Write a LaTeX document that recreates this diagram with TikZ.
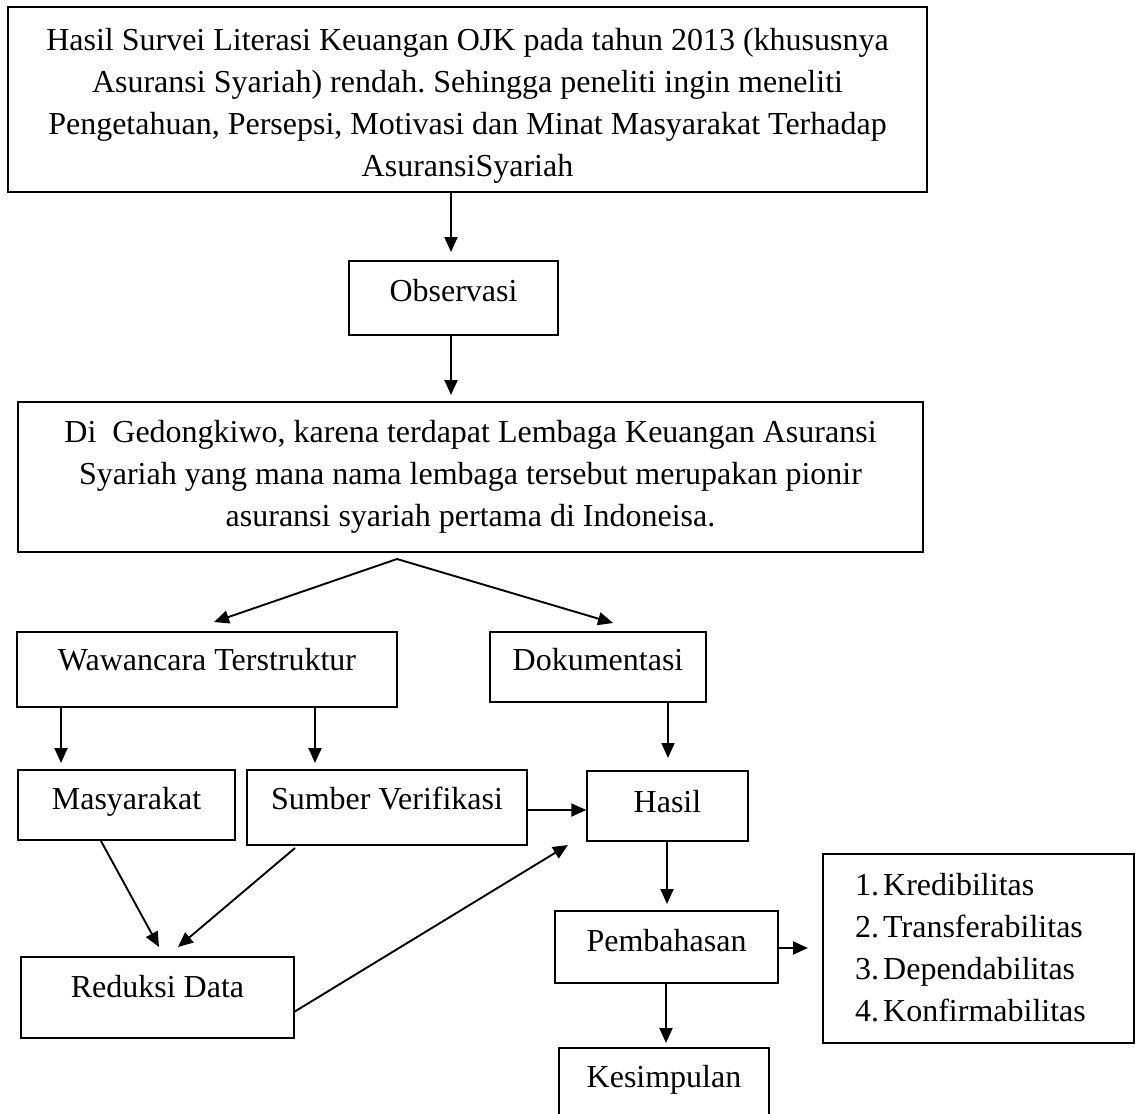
\documentclass[tikz,border=0pt]{standalone}
\usepackage{fontspec}
\setmainfont{Liberation Serif}
\usetikzlibrary{arrows.meta,calc}
\frenchspacing
\begin{document}
\begin{tikzpicture}[x=1pt,y=-1pt,
  box/.style={draw=black, line width=1.4pt, inner sep=0pt, rectangle},
  txt/.style={inner sep=0pt, align=center, anchor=base, font=\fontsize{32}{42}\selectfont},
  arr/.style={line width=1.9pt, -{Triangle[length=15pt,width=13pt]}}]
\useasboundingbox (0,0) rectangle (1139,1113);
\clip (0,0) rectangle (1139,1113);
\fill[white] (0,0) rectangle (1139,1113);
% boxes
\node[box, minimum width=919pt, minimum height=185pt] (top) at (467.5,99.5) {};
\node[box, minimum width=209pt, minimum height=74pt] (obs) at (453.5,298) {};
\node[box, minimum width=905pt, minimum height=150pt] (gd) at (470.5,477) {};
\node[box, minimum width=380pt, minimum height=75pt] (wt) at (207,669.5) {};
\node[box, minimum width=216pt, minimum height=70pt] (dok) at (598,667) {};
\node[box, minimum width=217pt, minimum height=70pt] (mas) at (126.5,805) {};
\node[box, minimum width=280pt, minimum height=75pt] (sv) at (387,807.5) {};
\node[box, minimum width=161pt, minimum height=70pt] (has) at (667.5,806) {};
\node[box, minimum width=273pt, minimum height=81pt] (red) at (157.5,997.5) {};
\node[box, minimum width=223pt, minimum height=72pt] (pem) at (666.5,947) {};
\node[box, minimum width=311pt, minimum height=189pt] (lst) at (978.5,948.5) {};
\node[box, minimum width=210pt, minimum height=100pt] (kes) at (664,1098) {};
% texts (base anchor of a multi-line node is its last line)
\node[txt] (topt) at (467.5,176) {Hasil Survei Literasi Keuangan OJK pada tahun 2013 (khususnya\\
 Asuransi Syariah) rendah. Sehingga peneliti ingin meneliti\\
Pengetahuan, Persepsi, Motivasi dan Minat Masyarakat Terhadap\\
AsuransiSyariah};
\node[txt] (obst) at (453.5,301) {Observasi};
\node[txt] (gdt) at (470.5,526) {Di\ \ Gedongkiwo, karena terdapat Lembaga Keuangan Asuransi\\
Syariah yang mana nama lembaga tersebut merupakan pionir\\
asuransi syariah pertama di Indoneisa.};
\node[txt] (wtt) at (207,670) {Wawancara Terstruktur};
\node[txt] (dokt) at (598,670) {Dokumentasi};
\node[txt] (mast) at (126.5,809) {Masyarakat};
\node[txt] (svt) at (387,809) {Sumber Verifikasi};
\node[txt] (hast) at (667.5,812) {Hasil};
\node[txt] (redt) at (157.5,997) {Reduksi Data};
\node[txt] (pemt) at (666.5,951) {Pembahasan};
\node[txt] (kest) at (664,1087) {Kesimpulan};
\node[txt, anchor=base west] (lstt) at (855,895) {\begin{tabular}[t]{@{}l@{\hspace{4pt}}l@{}}
1. & Kredibilitas\\
2. & Transferabilitas\\
3. & Dependabilitas\\
4. & Konfirmabilitas
\end{tabular}};
% connector end points
\coordinate (t1) at (451,252);
\coordinate (t2) at (451,395);
\coordinate (apex) at (397,559);
\coordinate (t3) at (214,622);
\coordinate (t4) at (613,623);
\coordinate (t5) at (61,763);
\coordinate (t6) at (315,763);
\coordinate (t7) at (668,758);
\coordinate (s9) at (101,841);
\coordinate (t9) at (159,947);
\coordinate (s10) at (295,848);
\coordinate (t10) at (178,947);
\coordinate (s11) at (294,1012);
\coordinate (t11) at (568,845);
\coordinate (t12) at (667,904);
\coordinate (t13) at (808,948);
\coordinate (t14) at (666,1043);
% connectors
\draw[arr] (top.south -| t1) -- (t1);
\draw[arr] (obs.south -| t2) -- (t2);
\draw[arr] (apex) -- (t3);
\draw[arr] (apex) -- (t4);
\draw[arr] (wt.south -| t5) -- (t5);
\draw[arr] (wt.south -| t6) -- (t6);
\draw[arr] (dok.south -| t7) -- (t7);
\draw[arr] (sv.east |- 0,810) -- (has.west |- 0,810);
\draw[arr] (s9) -- (t9);
\draw[arr] (s10) -- (t10);
\draw[arr] (s11) -- (t11);
\draw[arr] (has.south -| t12) -- (t12);
\draw[arr] (pem.east |- t13) -- (t13);
\draw[arr] (pem.south -| t14) -- (t14);
\end{tikzpicture}
\end{document}
